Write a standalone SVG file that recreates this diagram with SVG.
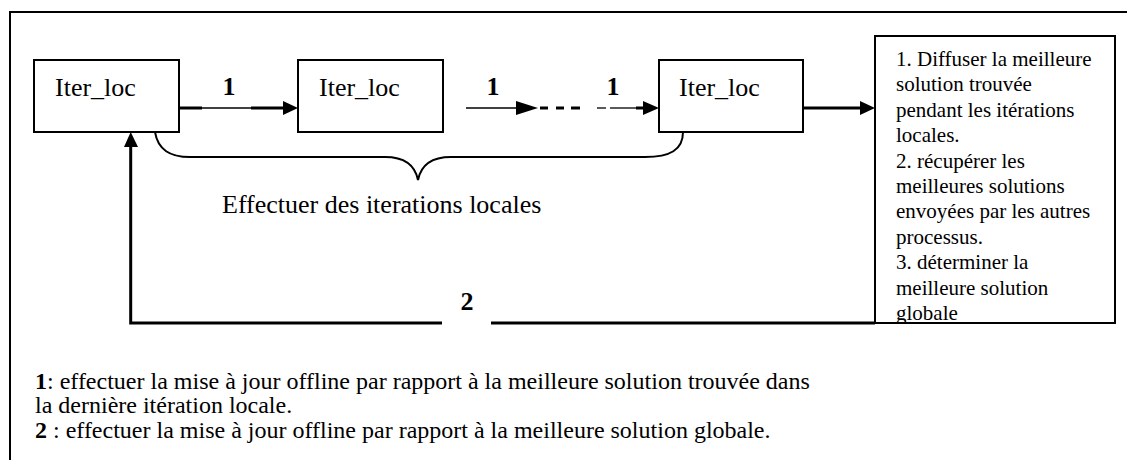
<svg xmlns="http://www.w3.org/2000/svg" width="1127" height="460" viewBox="0 0 1127 460">
  <style>
    text { font-family: "Liberation Serif", Tinos, "Times New Roman", Times, "Nimbus Roman", "DejaVu Serif", serif; fill: #000; }
    .lbl { font-size: 26px; }
    .num { font-size: 26px; font-weight: bold; text-anchor: middle; }
    .note { font-size: 21px; }
    .legend { font-size: 24px; }
    .box { fill: #fff; stroke: #000; stroke-width: 2; }
    .thick { stroke: #000; stroke-width: 3; fill: none; }
    .thin { stroke: #000; stroke-width: 1.3; fill: none; }
    .head { fill: #000; }
  </style>
  <defs>
    <clipPath id="noteClip">
      <rect x="876" y="37" width="238" height="285"/>
    </clipPath>
  </defs>

  <rect width="1127" height="460" fill="#fff"/>

  <!-- outer frame (only left and top edges are visible) -->
  <path d="M10,460 V12 H1127" fill="none" stroke="#000" stroke-width="2"/>

  <!-- connectors -->
  <g id="connectors">
    <!-- box 1 -> box 2 -->
    <line class="thick" x1="179" y1="108" x2="202" y2="108"/>
    <line class="thin" x1="202" y1="108" x2="251" y2="108"/>
    <line class="thick" x1="251" y1="108" x2="285" y2="108"/>
    <polygon class="head" points="283,101 298,108 283,115"/>
    <text class="num" x="229" y="95">1</text>

    <!-- box 2 -> ... -> box 3 -->
    <line class="thin" x1="466" y1="108" x2="518" y2="108"/>
    <polygon class="head" points="516,101 538,108 516,115"/>
    <line class="thick" x1="540" y1="108" x2="548" y2="108"/>
    <line class="thick" x1="556" y1="108" x2="564" y2="108"/>
    <line class="thick" x1="571" y1="108" x2="580" y2="108"/>
    <line class="thin" x1="597" y1="108" x2="606" y2="108"/>
    <line class="thin" x1="610" y1="108" x2="637" y2="108"/>
    <line class="thick" x1="636" y1="108" x2="646" y2="108"/>
    <polygon class="head" points="643,101 659,108 643,115"/>
    <text class="num" x="493" y="95">1</text>
    <text class="num" x="613" y="95">1</text>

    <!-- box 3 -> note box -->
    <line class="thick" x1="803" y1="108" x2="862" y2="108"/>
    <polygon class="head" points="860,101 875,108 860,115"/>

    <!-- feedback loop 2 -->
    <path class="thick" d="M875,323 H491 M442,323 H130.7 V146" stroke-width="2.3"/>
    <polygon class="head" points="124,147 130.7,132 138,147"/>
    <text class="num" x="467" y="310">2</text>

    <!-- brace under the local iterations -->
    <path d="M155,132 C158,150 170,157 190,157 L385,157 C405,157 415,165 418,180 C421,165 431,157 451,157 L645,157 C670,157 683,150 683,132" fill="none" stroke="#000" stroke-width="2"/>
    <text class="lbl" x="222" y="213">Effectuer des iterations locales</text>
  </g>

  <!-- nodes -->
  <g id="iter1">
    <rect class="box" x="34" y="60" width="145" height="72"/>
    <text class="lbl" x="55" y="96">Iter_loc</text>
  </g>
  <g id="iter2">
    <rect class="box" x="298" y="60" width="145" height="72"/>
    <text class="lbl" x="319" y="96">Iter_loc</text>
  </g>
  <g id="iter3">
    <rect class="box" x="659" y="60" width="144" height="72"/>
    <text class="lbl" x="679" y="96">Iter_loc</text>
  </g>
  <g id="note">
    <rect class="box" x="875" y="36" width="240" height="287"/>
    <g clip-path="url(#noteClip)" class="note">
      <text x="896" y="66">1. Diffuser la meilleure</text>
      <text x="896" y="91.4">solution trouvée</text>
      <text x="896" y="116.8">pendant les itérations</text>
      <text x="896" y="142.2">locales.</text>
      <text x="896" y="167.6">2. récupérer les</text>
      <text x="896" y="193">meilleures solutions</text>
      <text x="896" y="218.4">envoyées par les autres</text>
      <text x="896" y="243.8">processus.</text>
      <text x="896" y="269.2">3. déterminer la</text>
      <text x="896" y="294.6">meilleure solution</text>
      <text x="896" y="320">globale</text>
    </g>
  </g>

  <!-- legend -->
  <g id="legend" class="legend">
    <text x="35" y="389"><tspan font-weight="bold">1</tspan>: effectuer la mise à jour offline par rapport à la meilleure solution trouvée dans</text>
    <text x="35" y="413">la dernière itération locale.</text>
    <text x="35" y="438"><tspan font-weight="bold">2</tspan> : effectuer la mise à jour offline par rapport à la meilleure solution globale.</text>
  </g>
</svg>
